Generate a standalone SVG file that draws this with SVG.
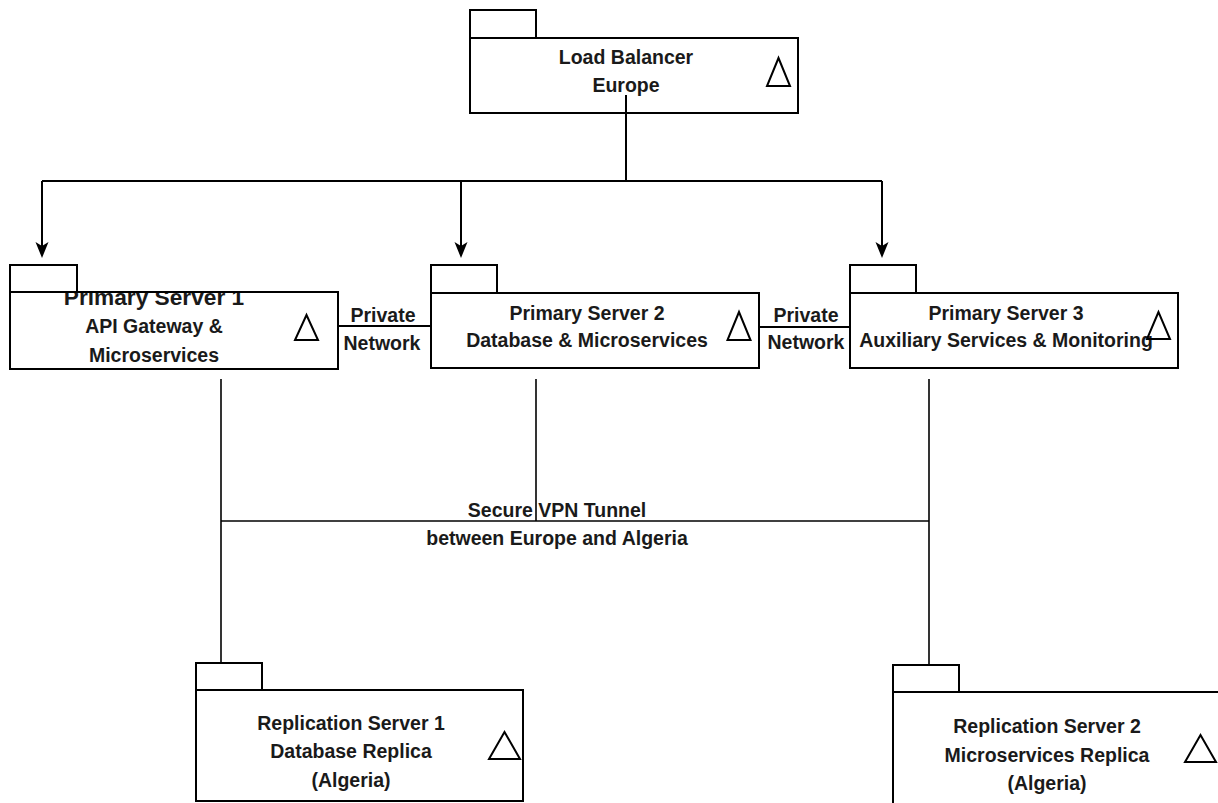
<svg xmlns="http://www.w3.org/2000/svg" width="1218" height="803" viewBox="0 0 1218 803">
  <style>
    .box { fill: #ffffff; stroke: #000000; stroke-width: 2; }
    .tri { fill: none; stroke: #000000; stroke-width: 2; stroke-linejoin: miter; }
    .lbl { font-family: "Liberation Sans", Arial, sans-serif; font-weight: bold; font-size: 19.5px; fill: #1a1a1a; text-anchor: middle; }
    .big { font-size: 22.7px; }
    .flow { fill: none; stroke: #000000; stroke-width: 2; }
    .link { fill: none; stroke: #000000; stroke-width: 2; }
    .vpn { fill: none; stroke: #000000; stroke-width: 1.6; }
  </style>
  <defs>
    <!-- classic notched arrowhead; path end sits at the notch, tip 12px further on -->
    <marker id="arrow" markerUnits="userSpaceOnUse" markerWidth="18" markerHeight="16" viewBox="-5 -8 18 16" refX="0" refY="0" orient="auto">
      <path d="M12,0 L-4,-6.5 L0,0 L-4,6.5 Z" fill="#000000"/>
    </marker>
    <clipPath id="clipPs1">
      <rect x="10" y="292" width="328" height="77"/>
    </clipPath>
  </defs>

  <rect width="1218" height="803" fill="#ffffff"/>

  <!-- Load Balancer -->
  <g id="load-balancer">
    <rect class="box" x="470" y="10" width="66" height="28"/>
    <rect class="box" x="470" y="38" width="328" height="75"/>
    <text class="lbl" x="626" y="64">Load Balancer</text>
    <text class="lbl" x="626" y="92">Europe</text>
    <path class="tri" d="M778.5,58 L767,86 H790 Z"/>
  </g>

  <!-- Primary Server 1 -->
  <g id="primary-server-1">
    <rect class="box" x="10" y="265" width="67" height="27"/>
    <rect class="box" x="10" y="292" width="328" height="77"/>
    <text class="lbl big" x="154" y="305" clip-path="url(#clipPs1)">Primary Server 1</text>
    <path d="M10,292 H338" stroke="#000000" stroke-width="2"/>
    <text class="lbl" x="154" y="333">API Gateway &amp;</text>
    <text class="lbl" x="154" y="362">Microservices</text>
    <path class="tri" d="M306.5,315 L295,340 H318 Z"/>
  </g>

  <!-- Primary Server 2 -->
  <g id="primary-server-2">
    <rect class="box" x="431" y="265" width="66" height="28"/>
    <rect class="box" x="431" y="293" width="328" height="75"/>
    <text class="lbl" x="587" y="320">Primary Server 2</text>
    <text class="lbl" x="587" y="347">Database &amp; Microservices</text>
    <path class="tri" d="M739,312 L727.5,340 H750.5 Z"/>
  </g>

  <!-- Primary Server 3 -->
  <g id="primary-server-3">
    <rect class="box" x="850" y="265" width="66" height="28"/>
    <rect class="box" x="850" y="293" width="328" height="75"/>
    <text class="lbl" x="1006" y="320">Primary Server 3</text>
    <text class="lbl" x="1006" y="347">Auxiliary Services &amp; Monitoring</text>
    <path class="tri" d="M1158.5,312 L1147,339 H1170 Z"/>
  </g>

  <!-- Replication Server 1 -->
  <g id="replication-server-1">
    <rect class="box" x="196" y="663" width="66" height="27"/>
    <rect class="box" x="196" y="690" width="327" height="111"/>
    <text class="lbl" x="351" y="730">Replication Server 1</text>
    <text class="lbl" x="351" y="758">Database Replica</text>
    <text class="lbl" x="351" y="787">(Algeria)</text>
    <path class="tri" d="M504.5,732 L489,759 H520 Z"/>
  </g>

  <!-- Replication Server 2 -->
  <g id="replication-server-2">
    <rect class="box" x="893" y="665" width="66" height="27"/>
    <rect class="box" x="893" y="692" width="330" height="115"/>
    <text class="lbl" x="1047" y="733">Replication Server 2</text>
    <text class="lbl" x="1047" y="762">Microservices Replica</text>
    <text class="lbl" x="1047" y="790">(Algeria)</text>
    <path class="tri" d="M1200.5,735 L1185,762 H1216 Z"/>
  </g>

  <!-- connectors -->
  <g id="connectors">
    <!-- load balancer fan-out -->
    <path class="flow" d="M626,95 V181"/>
    <path class="flow" d="M42,181 H882"/>
    <path class="flow" d="M42,181 V246" marker-end="url(#arrow)"/>
    <path class="flow" d="M461,181 V246" marker-end="url(#arrow)"/>
    <path class="flow" d="M882,181 V246" marker-end="url(#arrow)"/>

    <!-- private network links -->
    <path class="link" d="M338,326 H431"/>
    <path class="link" d="M759,327 H850"/>
    <text class="lbl" x="383" y="322">Private</text>
    <text class="lbl" x="382" y="350">Network</text>
    <text class="lbl" x="806" y="322">Private</text>
    <text class="lbl" x="806" y="349">Network</text>

    <!-- VPN tunnel -->
    <path class="vpn" d="M221,379 V663"/>
    <path class="vpn" d="M536,379 V521"/>
    <path class="vpn" d="M929,379 V665"/>
    <path class="vpn" d="M221,521 H929"/>
    <text class="lbl" x="557" y="517">Secure VPN Tunnel</text>
    <text class="lbl" x="557" y="545">between Europe and Algeria</text>
  </g>
</svg>
